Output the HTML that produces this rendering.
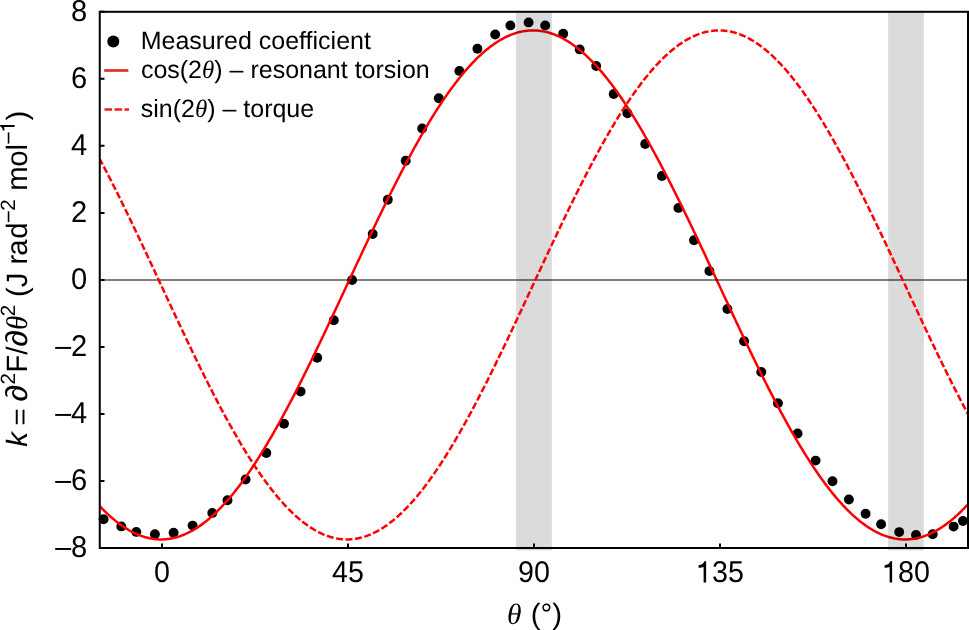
<!DOCTYPE html>
<html><head><meta charset="utf-8"><style>
html,body{margin:0;padding:0;background:#fff;overflow:hidden;}
svg{display:block;will-change:transform;}
text{font-family:"Liberation Sans",sans-serif;text-rendering:geometricPrecision;}
.th{font-family:"Liberation Serif",serif;font-style:italic;}
</style></head><body>
<svg width="969" height="630" viewBox="0 0 969 630">
<rect width="969" height="630" fill="#fff"/>
<g fill="#000">
<circle cx="103.6" cy="519.3" r="4.95"/>
<circle cx="121.3" cy="526.4" r="4.95"/>
<circle cx="136.3" cy="531.9" r="4.95"/>
<circle cx="154.9" cy="534.3" r="4.95"/>
<circle cx="173.6" cy="532.8" r="4.95"/>
<circle cx="192.6" cy="525.6" r="4.95"/>
<circle cx="212.3" cy="512.9" r="4.95"/>
<circle cx="227.5" cy="500.2" r="4.95"/>
<circle cx="245.6" cy="479.5" r="4.95"/>
<circle cx="266.3" cy="453.0" r="4.95"/>
<circle cx="284.0" cy="423.7" r="4.95"/>
<circle cx="300.6" cy="391.6" r="4.95"/>
<circle cx="317.2" cy="357.8" r="4.95"/>
<circle cx="333.8" cy="320.2" r="4.95"/>
<circle cx="352.1" cy="280.0" r="4.95"/>
<circle cx="372.7" cy="234.0" r="4.95"/>
<circle cx="387.8" cy="199.8" r="4.95"/>
<circle cx="405.7" cy="160.8" r="4.95"/>
<circle cx="422.2" cy="128.4" r="4.95"/>
<circle cx="438.8" cy="98.3" r="4.95"/>
<circle cx="459.4" cy="70.9" r="4.95"/>
<circle cx="477.4" cy="48.8" r="4.95"/>
<circle cx="495.2" cy="34.5" r="4.95"/>
<circle cx="510.4" cy="25.4" r="4.95"/>
<circle cx="528.6" cy="22.4" r="4.95"/>
<circle cx="545.2" cy="25.4" r="4.95"/>
<circle cx="563.2" cy="33.8" r="4.95"/>
<circle cx="579.7" cy="49.4" r="4.95"/>
<circle cx="596.2" cy="66.0" r="4.95"/>
<circle cx="613.7" cy="94.0" r="4.95"/>
<circle cx="627.4" cy="113.3" r="4.95"/>
<circle cx="645.2" cy="144.0" r="4.95"/>
<circle cx="661.9" cy="176.0" r="4.95"/>
<circle cx="678.4" cy="207.9" r="4.95"/>
<circle cx="694.0" cy="240.3" r="4.95"/>
<circle cx="709.4" cy="271.1" r="4.95"/>
<circle cx="727.4" cy="309.0" r="4.95"/>
<circle cx="744.1" cy="341.3" r="4.95"/>
<circle cx="761.3" cy="372.0" r="4.95"/>
<circle cx="777.9" cy="403.2" r="4.95"/>
<circle cx="797.6" cy="433.5" r="4.95"/>
<circle cx="815.6" cy="460.6" r="4.95"/>
<circle cx="832.5" cy="481.3" r="4.95"/>
<circle cx="848.9" cy="499.5" r="4.95"/>
<circle cx="865.6" cy="513.8" r="4.95"/>
<circle cx="881.1" cy="524.3" r="4.95"/>
<circle cx="899.2" cy="532.1" r="4.95"/>
<circle cx="916.0" cy="534.9" r="4.95"/>
<circle cx="932.7" cy="534.2" r="4.95"/>
<circle cx="953.6" cy="526.6" r="4.95"/>
<circle cx="962.9" cy="521.0" r="4.95"/>
</g>
<path d="M100.00,506.40 101.03,507.48 102.07,508.55 103.10,509.60 104.13,510.64 105.17,511.65 106.20,512.66 107.23,513.64 108.27,514.60 109.30,515.55 110.33,516.48 111.37,517.40 112.40,518.29 113.43,519.17 114.47,520.03 115.50,520.87 116.53,521.69 117.57,522.50 118.60,523.29 119.63,524.06 120.67,524.81 121.70,525.54 122.73,526.25 123.77,526.95 124.80,527.63 125.83,528.29 126.87,528.93 127.90,529.55 128.93,530.15 129.97,530.74 131.00,531.31 132.03,531.85 133.07,532.38 134.10,532.89 135.13,533.38 136.17,533.85 137.20,534.31 138.23,534.74 139.27,535.16 140.30,535.55 141.33,535.93 142.37,536.29 143.40,536.63 144.43,536.95 145.47,537.25 146.50,537.53 147.53,537.79 148.57,538.03 149.60,538.25 150.63,538.46 151.67,538.64 152.70,538.81 153.73,538.95 154.77,539.08 155.80,539.19 156.83,539.28 157.87,539.35 158.90,539.39 159.93,539.42 160.97,539.43 162.00,539.43 163.03,539.40 164.07,539.35 165.10,539.28 166.13,539.20 167.17,539.09 168.20,538.97 169.23,538.82 170.27,538.66 171.30,538.47 172.33,538.27 173.37,538.05 174.40,537.81 175.43,537.55 176.47,537.27 177.50,536.97 178.53,536.65 179.57,536.32 180.60,535.96 181.63,535.58 182.67,535.19 183.70,534.78 184.73,534.34 185.77,533.89 186.80,533.42 187.83,532.93 188.87,532.42 189.90,531.90 190.93,531.35 191.97,530.79 193.00,530.20 194.03,529.60 195.07,528.98 196.10,528.34 197.13,527.68 198.17,527.01 199.20,526.31 200.23,525.60 201.27,524.87 202.30,524.12 203.33,523.35 204.37,522.56 205.40,521.76 206.43,520.94 207.47,520.10 208.50,519.24 209.53,518.36 210.57,517.47 211.60,516.56 212.63,515.63 213.67,514.68 214.70,513.72 215.73,512.73 216.77,511.74 217.80,510.72 218.83,509.69 219.87,508.64 220.90,507.57 221.93,506.48 222.97,505.38 224.00,504.26 225.03,503.13 226.07,501.98 227.10,500.81 228.13,499.62 229.17,498.42 230.20,497.21 231.23,495.97 232.27,494.72 233.30,493.46 234.33,492.18 235.37,490.88 236.40,489.57 237.43,488.24 238.47,486.90 239.50,485.54 240.53,484.16 241.57,482.77 242.60,481.37 243.63,479.95 244.67,478.51 245.70,477.06 246.73,475.60 247.77,474.12 248.80,472.63 249.83,471.12 250.87,469.60 251.90,468.07 252.93,466.52 253.97,464.95 255.00,463.38 256.03,461.79 257.07,460.18 258.10,458.57 259.13,456.94 260.17,455.29 261.20,453.64 262.23,451.97 263.27,450.28 264.30,448.59 265.33,446.88 266.37,445.16 267.40,443.43 268.43,441.69 269.47,439.93 270.50,438.16 271.53,436.39 272.57,434.59 273.60,432.79 274.63,430.98 275.67,429.15 276.70,427.32 277.73,425.47 278.77,423.62 279.80,421.75 280.83,419.87 281.87,417.98 282.90,416.08 283.93,414.18 284.97,412.26 286.00,410.33 287.03,408.39 288.07,406.45 289.10,404.49 290.13,402.52 291.17,400.55 292.20,398.57 293.23,396.58 294.27,394.58 295.30,392.57 296.33,390.55 297.37,388.53 298.40,386.49 299.43,384.45 300.47,382.40 301.50,380.35 302.53,378.29 303.57,376.22 304.60,374.14 305.63,372.06 306.67,369.97 307.70,367.87 308.73,365.77 309.77,363.66 310.80,361.54 311.83,359.42 312.87,357.30 313.90,355.16 314.93,353.03 315.97,350.88 317.00,348.74 318.03,346.58 319.07,344.43 320.10,342.27 321.13,340.10 322.17,337.93 323.20,335.75 324.23,333.58 325.27,331.39 326.30,329.21 327.33,327.02 328.37,324.83 329.40,322.63 330.43,320.44 331.47,318.23 332.50,316.03 333.53,313.83 334.57,311.62 335.60,309.41 336.63,307.20 337.67,304.98 338.70,302.77 339.73,300.55 340.77,298.34 341.80,296.12 342.83,293.90 343.87,291.68 344.90,289.46 345.93,287.24 346.97,285.02 348.00,282.79 349.03,280.57 350.07,278.35 351.10,276.13 352.13,273.91 353.17,271.70 354.20,269.48 355.23,267.26 356.27,265.05 357.30,262.83 358.33,260.62 359.37,258.41 360.40,256.20 361.43,254.00 362.47,251.79 363.50,249.59 364.53,247.40 365.57,245.20 366.60,243.01 367.63,240.82 368.67,238.63 369.70,236.45 370.73,234.27 371.77,232.10 372.80,229.93 373.83,227.76 374.87,225.60 375.90,223.44 376.93,221.29 377.97,219.14 379.00,217.00 380.03,214.86 381.07,212.73 382.10,210.60 383.13,208.48 384.17,206.36 385.20,204.25 386.23,202.15 387.27,200.05 388.30,197.96 389.33,195.88 390.37,193.80 391.40,191.73 392.43,189.67 393.47,187.61 394.50,185.56 395.53,183.52 396.57,181.49 397.60,179.46 398.63,177.45 399.67,175.44 400.70,173.44 401.73,171.44 402.77,169.46 403.80,167.49 404.83,165.52 405.87,163.56 406.90,161.62 407.93,159.68 408.97,157.75 410.00,155.83 411.03,153.92 412.07,152.02 413.10,150.13 414.13,148.25 415.17,146.39 416.20,144.53 417.23,142.68 418.27,140.84 419.30,139.02 420.33,137.21 421.37,135.40 422.40,133.61 423.43,131.83 424.47,130.06 425.50,128.31 426.53,126.56 427.57,124.83 428.60,123.11 429.63,121.40 430.67,119.70 431.70,118.02 432.73,116.35 433.77,114.69 434.80,113.05 435.83,111.42 436.87,109.80 437.90,108.19 438.93,106.60 439.97,105.02 441.00,103.46 442.03,101.91 443.07,100.37 444.10,98.85 445.13,97.34 446.17,95.85 447.20,94.37 448.23,92.90 449.27,91.45 450.30,90.02 451.33,88.60 452.37,87.19 453.40,85.80 454.43,84.43 455.47,83.07 456.50,81.72 457.53,80.39 458.57,79.08 459.60,77.78 460.63,76.50 461.67,75.23 462.70,73.98 463.73,72.74 464.77,71.53 465.80,70.32 466.83,69.14 467.87,67.97 468.90,66.82 469.93,65.68 470.97,64.56 472.00,63.46 473.03,62.37 474.07,61.30 475.10,60.25 476.13,59.22 477.17,58.20 478.20,57.20 479.23,56.21 480.27,55.25 481.30,54.30 482.33,53.37 483.37,52.46 484.40,51.56 485.43,50.68 486.47,49.83 487.50,48.98 488.53,48.16 489.57,47.35 490.60,46.57 491.63,45.80 492.67,45.05 493.70,44.31 494.73,43.60 495.77,42.90 496.80,42.22 497.83,41.56 498.87,40.92 499.90,40.30 500.93,39.70 501.97,39.11 503.00,38.55 504.03,38.00 505.07,37.47 506.10,36.96 507.13,36.47 508.17,36.00 509.20,35.55 510.23,35.11 511.27,34.70 512.30,34.30 513.33,33.92 514.37,33.57 515.40,33.23 516.43,32.91 517.47,32.61 518.50,32.33 519.53,32.06 520.57,31.82 521.60,31.60 522.63,31.39 523.67,31.21 524.70,31.04 525.73,30.90 526.77,30.77 527.80,30.66 528.83,30.58 529.87,30.51 530.90,30.46 531.93,30.43 532.97,30.42 534.00,30.43 535.03,30.46 536.07,30.50 537.10,30.57 538.13,30.66 539.17,30.76 540.20,30.89 541.23,31.03 542.27,31.20 543.30,31.38 544.33,31.58 545.37,31.80 546.40,32.04 547.43,32.30 548.47,32.58 549.50,32.88 550.53,33.20 551.57,33.54 552.60,33.89 553.63,34.27 554.67,34.66 555.70,35.08 556.73,35.51 557.77,35.96 558.80,36.43 559.83,36.92 560.87,37.43 561.90,37.96 562.93,38.50 563.97,39.07 565.00,39.65 566.03,40.25 567.07,40.87 568.10,41.51 569.13,42.17 570.17,42.85 571.20,43.54 572.23,44.26 573.27,44.99 574.30,45.74 575.33,46.50 576.37,47.29 577.40,48.09 578.43,48.92 579.47,49.76 580.50,50.62 581.53,51.49 582.57,52.39 583.60,53.30 584.63,54.23 585.67,55.17 586.70,56.14 587.73,57.12 588.77,58.12 589.80,59.13 590.83,60.17 591.87,61.22 592.90,62.29 593.93,63.37 594.97,64.47 596.00,65.59 597.03,66.72 598.07,67.88 599.10,69.04 600.13,70.23 601.17,71.43 602.20,72.65 603.23,73.88 604.27,75.13 605.30,76.39 606.33,77.68 607.37,78.97 608.40,80.29 609.43,81.61 610.47,82.96 611.50,84.32 612.53,85.69 613.57,87.08 614.60,88.49 615.63,89.90 616.67,91.34 617.70,92.79 618.73,94.25 619.77,95.73 620.80,97.22 621.83,98.73 622.87,100.25 623.90,101.79 624.93,103.34 625.97,104.90 627.00,106.48 628.03,108.07 629.07,109.67 630.10,111.29 631.13,112.92 632.17,114.56 633.20,116.22 634.23,117.89 635.27,119.57 636.30,121.26 637.33,122.97 638.37,124.69 639.40,126.42 640.43,128.17 641.47,129.92 642.50,131.69 643.53,133.47 644.57,135.26 645.60,137.06 646.63,138.87 647.67,140.70 648.70,142.53 649.73,144.38 650.77,146.24 651.80,148.10 652.83,149.98 653.87,151.87 654.90,153.77 655.93,155.68 656.97,157.60 658.00,159.52 659.03,161.46 660.07,163.41 661.10,165.36 662.13,167.33 663.17,169.30 664.20,171.29 665.23,173.28 666.27,175.28 667.30,177.29 668.33,179.30 669.37,181.33 670.40,183.36 671.43,185.40 672.47,187.45 673.50,189.50 674.53,191.57 675.57,193.64 676.60,195.71 677.63,197.80 678.67,199.89 679.70,201.98 680.73,204.09 681.77,206.19 682.80,208.31 683.83,210.43 684.87,212.56 685.90,214.69 686.93,216.83 687.97,218.97 689.00,221.12 690.03,223.27 691.07,225.43 692.10,227.59 693.13,229.75 694.17,231.92 695.20,234.10 696.23,236.28 697.27,238.46 698.30,240.64 699.33,242.83 700.37,245.02 701.40,247.22 702.43,249.42 703.47,251.62 704.50,253.82 705.53,256.03 706.57,258.23 707.60,260.44 708.63,262.66 709.67,264.87 710.70,267.08 711.73,269.30 712.77,271.52 713.80,273.74 714.83,275.96 715.87,278.18 716.90,280.40 717.93,282.62 718.97,284.84 720.00,287.06 721.03,289.28 722.07,291.50 723.10,293.72 724.13,295.94 725.17,298.16 726.20,300.38 727.23,302.59 728.27,304.81 729.30,307.02 730.33,309.23 731.37,311.44 732.40,313.65 733.43,315.86 734.47,318.06 735.50,320.26 736.53,322.46 737.57,324.65 738.60,326.84 739.63,329.03 740.67,331.22 741.70,333.40 742.73,335.58 743.77,337.75 744.80,339.93 745.83,342.09 746.87,344.25 747.90,346.41 748.93,348.56 749.97,350.71 751.00,352.86 752.03,354.99 753.07,357.13 754.10,359.25 755.13,361.37 756.17,363.49 757.20,365.60 758.23,367.70 759.27,369.80 760.30,371.89 761.33,373.97 762.37,376.05 763.40,378.12 764.43,380.18 765.47,382.24 766.50,384.29 767.53,386.33 768.57,388.36 769.60,390.39 770.63,392.41 771.67,394.42 772.70,396.42 773.73,398.41 774.77,400.39 775.80,402.37 776.83,404.33 777.87,406.29 778.90,408.24 779.93,410.18 780.97,412.10 782.00,414.02 783.03,415.93 784.07,417.83 785.10,419.72 786.13,421.60 787.17,423.47 788.20,425.33 789.23,427.17 790.27,429.01 791.30,430.83 792.33,432.65 793.37,434.45 794.40,436.24 795.43,438.02 796.47,439.79 797.50,441.55 798.53,443.29 799.57,445.02 800.60,446.75 801.63,448.45 802.67,450.15 803.70,451.83 804.73,453.50 805.77,455.16 806.80,456.80 807.83,458.44 808.87,460.05 809.90,461.66 810.93,463.25 811.97,464.83 813.00,466.39 814.03,467.94 815.07,469.48 816.10,471.00 817.13,472.51 818.17,474.00 819.20,475.48 820.23,476.95 821.27,478.40 822.30,479.83 823.33,481.25 824.37,482.66 825.40,484.05 826.43,485.43 827.47,486.79 828.50,488.13 829.53,489.46 830.57,490.78 831.60,492.07 832.63,493.36 833.67,494.62 834.70,495.87 835.73,497.11 836.77,498.33 837.80,499.53 838.83,500.71 839.87,501.88 840.90,503.04 841.93,504.17 842.97,505.29 844.00,506.40 845.03,507.48 846.07,508.55 847.10,509.60 848.13,510.64 849.17,511.65 850.20,512.66 851.23,513.64 852.27,514.60 853.30,515.55 854.33,516.48 855.37,517.40 856.40,518.29 857.43,519.17 858.47,520.03 859.50,520.87 860.53,521.69 861.57,522.50 862.60,523.29 863.63,524.06 864.67,524.81 865.70,525.54 866.73,526.25 867.77,526.95 868.80,527.63 869.83,528.29 870.87,528.93 871.90,529.55 872.93,530.15 873.97,530.74 875.00,531.31 876.03,531.85 877.07,532.38 878.10,532.89 879.13,533.38 880.17,533.85 881.20,534.31 882.23,534.74 883.27,535.16 884.30,535.55 885.33,535.93 886.37,536.29 887.40,536.63 888.43,536.95 889.47,537.25 890.50,537.53 891.53,537.79 892.57,538.03 893.60,538.25 894.63,538.46 895.67,538.64 896.70,538.81 897.73,538.95 898.77,539.08 899.80,539.19 900.83,539.28 901.87,539.35 902.90,539.39 903.93,539.42 904.97,539.43 906.00,539.43 907.03,539.40 908.07,539.35 909.10,539.28 910.13,539.20 911.17,539.09 912.20,538.97 913.23,538.82 914.27,538.66 915.30,538.47 916.33,538.27 917.37,538.05 918.40,537.81 919.43,537.55 920.47,537.27 921.50,536.97 922.53,536.65 923.57,536.32 924.60,535.96 925.63,535.58 926.67,535.19 927.70,534.78 928.73,534.34 929.77,533.89 930.80,533.42 931.83,532.93 932.87,532.42 933.90,531.90 934.93,531.35 935.97,530.79 937.00,530.20 938.03,529.60 939.07,528.98 940.10,528.34 941.13,527.68 942.17,527.01 943.20,526.31 944.23,525.60 945.27,524.87 946.30,524.12 947.33,523.35 948.37,522.56 949.40,521.76 950.43,520.94 951.47,520.10 952.50,519.24 953.53,518.36 954.57,517.47 955.60,516.56 956.63,515.63 957.67,514.68 958.70,513.72 959.73,512.73 960.77,511.74 961.80,510.72 962.83,509.69 963.87,508.64 964.90,507.57 965.93,506.48 966.97,505.38 968.00,504.26" fill="none" stroke="#f00" stroke-width="2.5"/>
<path d="M100,280H968" stroke="#000" stroke-opacity="0.66" stroke-width="1.6"/>
<g fill="#000" fill-opacity="0.14"><rect x="516.14" y="12.5" width="35.71" height="538"/><rect x="888.14" y="12.5" width="35.71" height="538"/></g>
<path d="M100.00,159.52 101.03,161.46 102.07,163.41 103.10,165.36 104.13,167.33 105.17,169.30 106.20,171.29 107.23,173.28 108.27,175.28 109.30,177.29 110.33,179.30 111.37,181.33 112.40,183.36 113.43,185.40 114.47,187.45 115.50,189.50 116.53,191.57 117.57,193.64 118.60,195.71 119.63,197.80 120.67,199.89 121.70,201.98 122.73,204.09 123.77,206.19 124.80,208.31 125.83,210.43 126.87,212.56 127.90,214.69 128.93,216.83 129.97,218.97 131.00,221.12 132.03,223.27 133.07,225.43 134.10,227.59 135.13,229.75 136.17,231.92 137.20,234.10 138.23,236.28 139.27,238.46 140.30,240.64 141.33,242.83 142.37,245.02 143.40,247.22 144.43,249.42 145.47,251.62 146.50,253.82 147.53,256.03 148.57,258.23 149.60,260.44 150.63,262.66 151.67,264.87 152.70,267.08 153.73,269.30 154.77,271.52 155.80,273.74 156.83,275.96 157.87,278.18 158.90,280.40 159.93,282.62 160.97,284.84 162.00,287.06 163.03,289.28 164.07,291.50 165.10,293.72 166.13,295.94 167.17,298.16 168.20,300.38 169.23,302.59 170.27,304.81 171.30,307.02 172.33,309.23 173.37,311.44 174.40,313.65 175.43,315.86 176.47,318.06 177.50,320.26 178.53,322.46 179.57,324.65 180.60,326.84 181.63,329.03 182.67,331.22 183.70,333.40 184.73,335.58 185.77,337.75 186.80,339.93 187.83,342.09 188.87,344.25 189.90,346.41 190.93,348.56 191.97,350.71 193.00,352.86 194.03,354.99 195.07,357.13 196.10,359.25 197.13,361.37 198.17,363.49 199.20,365.60 200.23,367.70 201.27,369.80 202.30,371.89 203.33,373.97 204.37,376.05 205.40,378.12 206.43,380.18 207.47,382.24 208.50,384.29 209.53,386.33 210.57,388.36 211.60,390.39 212.63,392.41 213.67,394.42 214.70,396.42 215.73,398.41 216.77,400.39 217.80,402.37 218.83,404.33 219.87,406.29 220.90,408.24 221.93,410.18 222.97,412.10 224.00,414.02 225.03,415.93 226.07,417.83 227.10,419.72 228.13,421.60 229.17,423.47 230.20,425.33 231.23,427.17 232.27,429.01 233.30,430.83 234.33,432.65 235.37,434.45 236.40,436.24 237.43,438.02 238.47,439.79 239.50,441.55 240.53,443.29 241.57,445.02 242.60,446.75 243.63,448.45 244.67,450.15 245.70,451.83 246.73,453.50 247.77,455.16 248.80,456.80 249.83,458.44 250.87,460.05 251.90,461.66 252.93,463.25 253.97,464.83 255.00,466.39 256.03,467.94 257.07,469.48 258.10,471.00 259.13,472.51 260.17,474.00 261.20,475.48 262.23,476.95 263.27,478.40 264.30,479.83 265.33,481.25 266.37,482.66 267.40,484.05 268.43,485.43 269.47,486.79 270.50,488.13 271.53,489.46 272.57,490.78 273.60,492.07 274.63,493.36 275.67,494.62 276.70,495.87 277.73,497.11 278.77,498.33 279.80,499.53 280.83,500.71 281.87,501.88 282.90,503.04 283.93,504.17 284.97,505.29 286.00,506.40 287.03,507.48 288.07,508.55 289.10,509.60 290.13,510.64 291.17,511.65 292.20,512.66 293.23,513.64 294.27,514.60 295.30,515.55 296.33,516.48 297.37,517.40 298.40,518.29 299.43,519.17 300.47,520.03 301.50,520.87 302.53,521.69 303.57,522.50 304.60,523.29 305.63,524.06 306.67,524.81 307.70,525.54 308.73,526.25 309.77,526.95 310.80,527.63 311.83,528.29 312.87,528.93 313.90,529.55 314.93,530.15 315.97,530.74 317.00,531.31 318.03,531.85 319.07,532.38 320.10,532.89 321.13,533.38 322.17,533.85 323.20,534.31 324.23,534.74 325.27,535.16 326.30,535.55 327.33,535.93 328.37,536.29 329.40,536.63 330.43,536.95 331.47,537.25 332.50,537.53 333.53,537.79 334.57,538.03 335.60,538.25 336.63,538.46 337.67,538.64 338.70,538.81 339.73,538.95 340.77,539.08 341.80,539.19 342.83,539.28 343.87,539.35 344.90,539.39 345.93,539.42 346.97,539.43 348.00,539.43 349.03,539.40 350.07,539.35 351.10,539.28 352.13,539.20 353.17,539.09 354.20,538.97 355.23,538.82 356.27,538.66 357.30,538.47 358.33,538.27 359.37,538.05 360.40,537.81 361.43,537.55 362.47,537.27 363.50,536.97 364.53,536.65 365.57,536.32 366.60,535.96 367.63,535.58 368.67,535.19 369.70,534.78 370.73,534.34 371.77,533.89 372.80,533.42 373.83,532.93 374.87,532.42 375.90,531.90 376.93,531.35 377.97,530.79 379.00,530.20 380.03,529.60 381.07,528.98 382.10,528.34 383.13,527.68 384.17,527.01 385.20,526.31 386.23,525.60 387.27,524.87 388.30,524.12 389.33,523.35 390.37,522.56 391.40,521.76 392.43,520.94 393.47,520.10 394.50,519.24 395.53,518.36 396.57,517.47 397.60,516.56 398.63,515.63 399.67,514.68 400.70,513.72 401.73,512.73 402.77,511.74 403.80,510.72 404.83,509.69 405.87,508.64 406.90,507.57 407.93,506.48 408.97,505.38 410.00,504.26 411.03,503.13 412.07,501.98 413.10,500.81 414.13,499.62 415.17,498.42 416.20,497.21 417.23,495.97 418.27,494.72 419.30,493.46 420.33,492.18 421.37,490.88 422.40,489.57 423.43,488.24 424.47,486.90 425.50,485.54 426.53,484.16 427.57,482.77 428.60,481.37 429.63,479.95 430.67,478.51 431.70,477.06 432.73,475.60 433.77,474.12 434.80,472.63 435.83,471.12 436.87,469.60 437.90,468.07 438.93,466.52 439.97,464.95 441.00,463.38 442.03,461.79 443.07,460.18 444.10,458.57 445.13,456.94 446.17,455.29 447.20,453.64 448.23,451.97 449.27,450.28 450.30,448.59 451.33,446.88 452.37,445.16 453.40,443.43 454.43,441.69 455.47,439.93 456.50,438.16 457.53,436.39 458.57,434.59 459.60,432.79 460.63,430.98 461.67,429.15 462.70,427.32 463.73,425.47 464.77,423.62 465.80,421.75 466.83,419.87 467.87,417.98 468.90,416.08 469.93,414.18 470.97,412.26 472.00,410.33 473.03,408.39 474.07,406.45 475.10,404.49 476.13,402.52 477.17,400.55 478.20,398.57 479.23,396.58 480.27,394.58 481.30,392.57 482.33,390.55 483.37,388.53 484.40,386.49 485.43,384.45 486.47,382.40 487.50,380.35 488.53,378.29 489.57,376.22 490.60,374.14 491.63,372.06 492.67,369.97 493.70,367.87 494.73,365.77 495.77,363.66 496.80,361.54 497.83,359.42 498.87,357.30 499.90,355.16 500.93,353.03 501.97,350.88 503.00,348.74 504.03,346.58 505.07,344.43 506.10,342.27 507.13,340.10 508.17,337.93 509.20,335.75 510.23,333.58 511.27,331.39 512.30,329.21 513.33,327.02 514.37,324.83 515.40,322.63 516.43,320.44 517.47,318.23 518.50,316.03 519.53,313.83 520.57,311.62 521.60,309.41 522.63,307.20 523.67,304.98 524.70,302.77 525.73,300.55 526.77,298.34 527.80,296.12 528.83,293.90 529.87,291.68 530.90,289.46 531.93,287.24 532.97,285.02 534.00,282.79 535.03,280.57 536.07,278.35 537.10,276.13 538.13,273.91 539.17,271.70 540.20,269.48 541.23,267.26 542.27,265.05 543.30,262.83 544.33,260.62 545.37,258.41 546.40,256.20 547.43,254.00 548.47,251.79 549.50,249.59 550.53,247.40 551.57,245.20 552.60,243.01 553.63,240.82 554.67,238.63 555.70,236.45 556.73,234.27 557.77,232.10 558.80,229.93 559.83,227.76 560.87,225.60 561.90,223.44 562.93,221.29 563.97,219.14 565.00,217.00 566.03,214.86 567.07,212.73 568.10,210.60 569.13,208.48 570.17,206.36 571.20,204.25 572.23,202.15 573.27,200.05 574.30,197.96 575.33,195.88 576.37,193.80 577.40,191.73 578.43,189.67 579.47,187.61 580.50,185.56 581.53,183.52 582.57,181.49 583.60,179.46 584.63,177.45 585.67,175.44 586.70,173.44 587.73,171.44 588.77,169.46 589.80,167.49 590.83,165.52 591.87,163.56 592.90,161.62 593.93,159.68 594.97,157.75 596.00,155.83 597.03,153.92 598.07,152.02 599.10,150.13 600.13,148.25 601.17,146.39 602.20,144.53 603.23,142.68 604.27,140.84 605.30,139.02 606.33,137.21 607.37,135.40 608.40,133.61 609.43,131.83 610.47,130.06 611.50,128.31 612.53,126.56 613.57,124.83 614.60,123.11 615.63,121.40 616.67,119.70 617.70,118.02 618.73,116.35 619.77,114.69 620.80,113.05 621.83,111.42 622.87,109.80 623.90,108.19 624.93,106.60 625.97,105.02 627.00,103.46 628.03,101.91 629.07,100.37 630.10,98.85 631.13,97.34 632.17,95.85 633.20,94.37 634.23,92.90 635.27,91.45 636.30,90.02 637.33,88.60 638.37,87.19 639.40,85.80 640.43,84.43 641.47,83.07 642.50,81.72 643.53,80.39 644.57,79.08 645.60,77.78 646.63,76.50 647.67,75.23 648.70,73.98 649.73,72.74 650.77,71.53 651.80,70.32 652.83,69.14 653.87,67.97 654.90,66.82 655.93,65.68 656.97,64.56 658.00,63.46 659.03,62.37 660.07,61.30 661.10,60.25 662.13,59.22 663.17,58.20 664.20,57.20 665.23,56.21 666.27,55.25 667.30,54.30 668.33,53.37 669.37,52.46 670.40,51.56 671.43,50.68 672.47,49.83 673.50,48.98 674.53,48.16 675.57,47.35 676.60,46.57 677.63,45.80 678.67,45.05 679.70,44.31 680.73,43.60 681.77,42.90 682.80,42.22 683.83,41.56 684.87,40.92 685.90,40.30 686.93,39.70 687.97,39.11 689.00,38.55 690.03,38.00 691.07,37.47 692.10,36.96 693.13,36.47 694.17,36.00 695.20,35.55 696.23,35.11 697.27,34.70 698.30,34.30 699.33,33.92 700.37,33.57 701.40,33.23 702.43,32.91 703.47,32.61 704.50,32.33 705.53,32.06 706.57,31.82 707.60,31.60 708.63,31.39 709.67,31.21 710.70,31.04 711.73,30.90 712.77,30.77 713.80,30.66 714.83,30.58 715.87,30.51 716.90,30.46 717.93,30.43 718.97,30.42 720.00,30.43 721.03,30.46 722.07,30.50 723.10,30.57 724.13,30.66 725.17,30.76 726.20,30.89 727.23,31.03 728.27,31.20 729.30,31.38 730.33,31.58 731.37,31.80 732.40,32.04 733.43,32.30 734.47,32.58 735.50,32.88 736.53,33.20 737.57,33.54 738.60,33.89 739.63,34.27 740.67,34.66 741.70,35.08 742.73,35.51 743.77,35.96 744.80,36.43 745.83,36.92 746.87,37.43 747.90,37.96 748.93,38.50 749.97,39.07 751.00,39.65 752.03,40.25 753.07,40.87 754.10,41.51 755.13,42.17 756.17,42.85 757.20,43.54 758.23,44.26 759.27,44.99 760.30,45.74 761.33,46.50 762.37,47.29 763.40,48.09 764.43,48.92 765.47,49.76 766.50,50.62 767.53,51.49 768.57,52.39 769.60,53.30 770.63,54.23 771.67,55.17 772.70,56.14 773.73,57.12 774.77,58.12 775.80,59.13 776.83,60.17 777.87,61.22 778.90,62.29 779.93,63.37 780.97,64.47 782.00,65.59 783.03,66.72 784.07,67.88 785.10,69.04 786.13,70.23 787.17,71.43 788.20,72.65 789.23,73.88 790.27,75.13 791.30,76.39 792.33,77.68 793.37,78.97 794.40,80.29 795.43,81.61 796.47,82.96 797.50,84.32 798.53,85.69 799.57,87.08 800.60,88.49 801.63,89.90 802.67,91.34 803.70,92.79 804.73,94.25 805.77,95.73 806.80,97.22 807.83,98.73 808.87,100.25 809.90,101.79 810.93,103.34 811.97,104.90 813.00,106.48 814.03,108.07 815.07,109.67 816.10,111.29 817.13,112.92 818.17,114.56 819.20,116.22 820.23,117.89 821.27,119.57 822.30,121.26 823.33,122.97 824.37,124.69 825.40,126.42 826.43,128.17 827.47,129.92 828.50,131.69 829.53,133.47 830.57,135.26 831.60,137.06 832.63,138.87 833.67,140.70 834.70,142.53 835.73,144.38 836.77,146.24 837.80,148.10 838.83,149.98 839.87,151.87 840.90,153.77 841.93,155.68 842.97,157.60 844.00,159.52 845.03,161.46 846.07,163.41 847.10,165.36 848.13,167.33 849.17,169.30 850.20,171.29 851.23,173.28 852.27,175.28 853.30,177.29 854.33,179.30 855.37,181.33 856.40,183.36 857.43,185.40 858.47,187.45 859.50,189.50 860.53,191.57 861.57,193.64 862.60,195.71 863.63,197.80 864.67,199.89 865.70,201.98 866.73,204.09 867.77,206.19 868.80,208.31 869.83,210.43 870.87,212.56 871.90,214.69 872.93,216.83 873.97,218.97 875.00,221.12 876.03,223.27 877.07,225.43 878.10,227.59 879.13,229.75 880.17,231.92 881.20,234.10 882.23,236.28 883.27,238.46 884.30,240.64 885.33,242.83 886.37,245.02 887.40,247.22 888.43,249.42 889.47,251.62 890.50,253.82 891.53,256.03 892.57,258.23 893.60,260.44 894.63,262.66 895.67,264.87 896.70,267.08 897.73,269.30 898.77,271.52 899.80,273.74 900.83,275.96 901.87,278.18 902.90,280.40 903.93,282.62 904.97,284.84 906.00,287.06 907.03,289.28 908.07,291.50 909.10,293.72 910.13,295.94 911.17,298.16 912.20,300.38 913.23,302.59 914.27,304.81 915.30,307.02 916.33,309.23 917.37,311.44 918.40,313.65 919.43,315.86 920.47,318.06 921.50,320.26 922.53,322.46 923.57,324.65 924.60,326.84 925.63,329.03 926.67,331.22 927.70,333.40 928.73,335.58 929.77,337.75 930.80,339.93 931.83,342.09 932.87,344.25 933.90,346.41 934.93,348.56 935.97,350.71 937.00,352.86 938.03,354.99 939.07,357.13 940.10,359.25 941.13,361.37 942.17,363.49 943.20,365.60 944.23,367.70 945.27,369.80 946.30,371.89 947.33,373.97 948.37,376.05 949.40,378.12 950.43,380.18 951.47,382.24 952.50,384.29 953.53,386.33 954.57,388.36 955.60,390.39 956.63,392.41 957.67,394.42 958.70,396.42 959.73,398.41 960.77,400.39 961.80,402.37 962.83,404.33 963.87,406.29 964.90,408.24 965.93,410.18 966.97,412.10 968.00,414.02" fill="none" stroke="#f00" stroke-width="2.5" stroke-dasharray="6.9 2.61" stroke-dashoffset="1.41"/>
<rect x="99.75" y="11.8" width="868.25" height="536.2" fill="none" stroke="#000" stroke-width="2"/>
<path d="M162.00,548V543.5M348.00,548V543.5M534.00,548V543.5M720.00,548V543.5M906.00,548V543.5M99.75,547.98H104.5M99.75,480.96H104.5M99.75,413.94H104.5M99.75,346.92H104.5M99.75,279.90H104.5M99.75,212.88H104.5M99.75,145.86H104.5M99.75,78.84H104.5M99.75,11.82H104.5" stroke="#000" stroke-width="2" fill="none"/>
<g font-size="30.0" fill="#000">
<text transform="translate(162.00,582.40) scale(0.955,1)" text-anchor="middle">0</text>
<text transform="translate(348.00,582.40) scale(0.955,1)" text-anchor="middle">45</text>
<text transform="translate(534.00,582.40) scale(0.955,1)" text-anchor="middle">90</text>
<path d="M703.61,582.40L706.13,582.40L706.13,561.31L704.21,561.31C703.78,563.35 701.97,565.06 698.62,565.36L698.62,567.70C700.68,567.64 702.55,567.40 703.61,566.95Z"/>
<text transform="translate(712.03,582.40) scale(0.955,1)">35</text>
<path d="M889.61,582.40L892.13,582.40L892.13,561.31L890.21,561.31C889.78,563.35 887.97,565.06 884.62,565.36L884.62,567.70C886.68,567.64 888.55,567.40 889.61,566.95Z"/>
<text transform="translate(898.03,582.40) scale(0.955,1)">80</text>
<text transform="translate(87.2,557.28) scale(0.970,1)" text-anchor="end">8</text>
<rect x="55.2" y="548.00" width="15.9" height="1.95"/>
<text transform="translate(87.2,490.26) scale(0.970,1)" text-anchor="end">6</text>
<rect x="55.2" y="480.98" width="15.9" height="1.95"/>
<text transform="translate(87.2,423.24) scale(0.970,1)" text-anchor="end">4</text>
<rect x="55.2" y="413.96" width="15.9" height="1.95"/>
<text transform="translate(87.2,356.22) scale(0.970,1)" text-anchor="end">2</text>
<rect x="55.2" y="346.94" width="15.9" height="1.95"/>
<text transform="translate(87.2,289.20) scale(0.970,1)" text-anchor="end">0</text>
<text transform="translate(87.2,222.18) scale(0.970,1)" text-anchor="end">2</text>
<text transform="translate(87.2,155.16) scale(0.970,1)" text-anchor="end">4</text>
<text transform="translate(87.2,88.14) scale(0.970,1)" text-anchor="end">6</text>
<text transform="translate(87.2,21.12) scale(0.970,1)" text-anchor="end">8</text>
</g>
<g font-size="25" fill="#000">
<circle cx="113.3" cy="41.4" r="6"/>
<text x="140.7" y="49.3">Measured coefficient</text>
<path d="M104.2,70.5H128.4" stroke="#e6231a" stroke-width="2.6"/>
<text x="140.89999999999998" y="77.7">cos(2<tspan class="th">θ</tspan>) – resonant torsion</text>
<path d="M104.5,109.5H129" stroke="#e6231a" stroke-width="2.6" stroke-dasharray="7.6 2.4"/>
<text x="140.7" y="116.7">sin(2<tspan class="th">θ</tspan>) – torque</text>
</g>
<g fill="#000">
<text transform="rotate(-90) translate(-446.86,27.30) scale(1.0000,1.0000)" style="font-family:'Liberation Sans';font-style:italic" font-size="29.40">k</text>
<text transform="rotate(-90) translate(-425.76,28.73) scale(1.0151,0.9182)" style="font-family:'Liberation Sans';font-style:normal" font-size="29.40">=</text>
<text transform="rotate(-90) translate(-401.64,27.40) scale(1.1713,1.0375)" style="font-family:'Liberation Sans';font-style:italic" font-size="29.40">∂</text>
<text transform="rotate(-90) translate(-384.58,14.60) scale(1.0000,1.0000)" style="font-family:'Liberation Sans';font-style:normal" font-size="20.60">2</text>
<text transform="rotate(-90) translate(-372.70,27.30) scale(1.0000,1.0000)" style="font-family:'Liberation Sans';font-style:normal" font-size="29.40">F</text>
<text transform="rotate(-90) translate(-354.73,27.30) scale(1.0000,1.0000)" style="font-family:'Liberation Sans';font-style:normal" font-size="29.40">/</text>
<text transform="rotate(-90) translate(-346.63,27.40) scale(1.1558,1.0375)" style="font-family:'Liberation Sans';font-style:italic" font-size="29.40">∂</text>
<text transform="rotate(-90) translate(-330.02,27.31) scale(0.9905,1.0219)" style="font-family:'Liberation Serif';font-style:italic" font-size="29.40">θ</text>
<text transform="rotate(-90) translate(-316.23,14.60) scale(1.0000,1.0000)" style="font-family:'Liberation Sans';font-style:normal" font-size="20.60">2</text>
<text transform="rotate(-90) translate(-297.02,27.30) scale(1.0000,1.0000)" style="font-family:'Liberation Sans';font-style:normal" font-size="29.40">(</text>
<text transform="rotate(-90) translate(-287.19,27.30) scale(1.0000,1.0000)" style="font-family:'Liberation Sans';font-style:normal" font-size="29.40">J</text>
<text transform="rotate(-90) translate(-264.38,27.30) scale(1.0000,1.0000)" style="font-family:'Liberation Sans';font-style:normal" font-size="29.40">r</text>
<text transform="rotate(-90) translate(-255.65,27.30) scale(1.0000,1.0000)" style="font-family:'Liberation Sans';font-style:normal" font-size="29.40">a</text>
<text transform="rotate(-90) translate(-238.65,27.30) scale(1.0000,1.0000)" style="font-family:'Liberation Sans';font-style:normal" font-size="29.40">d</text>
<text transform="rotate(-90) translate(-223.21,16.36) scale(1.0891,1.0895)" style="font-family:'Liberation Sans';font-style:normal" font-size="20.60">−</text>
<text transform="rotate(-90) translate(-210.83,14.60) scale(1.0000,1.0000)" style="font-family:'Liberation Sans';font-style:normal" font-size="20.60">2</text>
<text transform="rotate(-90) translate(-190.65,27.30) scale(1.0000,1.0000)" style="font-family:'Liberation Sans';font-style:normal" font-size="29.40">m</text>
<text transform="rotate(-90) translate(-166.73,27.30) scale(1.0000,1.0000)" style="font-family:'Liberation Sans';font-style:normal" font-size="29.40">o</text>
<text transform="rotate(-90) translate(-150.57,27.30) scale(1.0000,1.0000)" style="font-family:'Liberation Sans';font-style:normal" font-size="29.40">l</text>
<text transform="rotate(-90) translate(-144.84,16.36) scale(1.1191,1.0895)" style="font-family:'Liberation Sans';font-style:normal" font-size="20.60">−</text>
<path transform="rotate(-90) translate(-132.31,14.60) scale(1.0000,1.0000)" d="M5.40,0.00L7.21,0.00L7.21,-14.48L5.83,-14.48C5.52,-13.08 4.22,-11.91 1.81,-11.70L1.81,-10.09C3.30,-10.14 4.64,-10.30 5.40,-10.61Z"/>
<text transform="rotate(-90) translate(-120.47,27.30) scale(1.0000,1.0000)" style="font-family:'Liberation Sans';font-style:normal" font-size="29.40">)</text>
</g>
<text x="507" y="624" font-size="29.5"><tspan class="th">θ</tspan><tspan dx="1"> (°)</tspan></text>
</svg>
</body></html>
